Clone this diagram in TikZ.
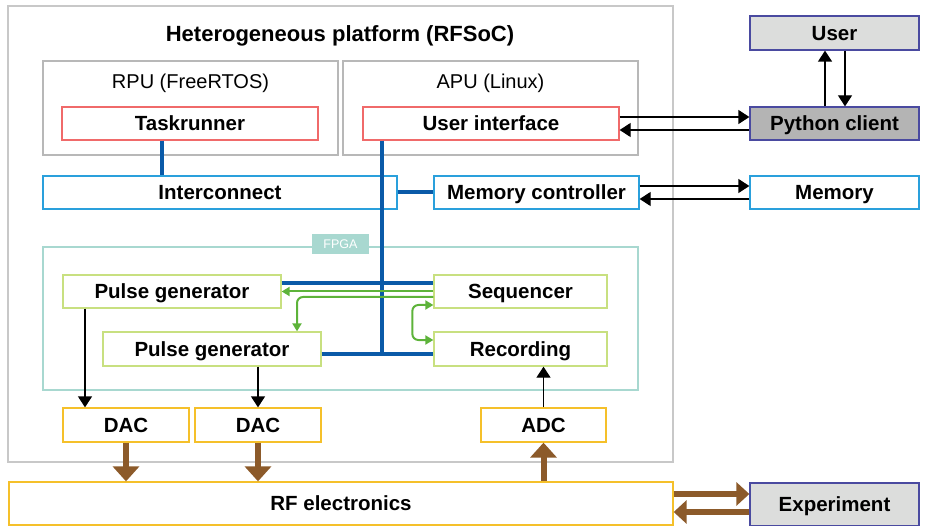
\documentclass[tikz,border=0pt]{standalone}
\usepackage{fontspec}
\setmainfont{Liberation Sans}
\usetikzlibrary{arrows.meta,calc}
\definecolor{framegray}{HTML}{C8C8C8}
\definecolor{cpugray}{HTML}{B8B8B8}
\definecolor{cpured}{HTML}{F06A6A}
\definecolor{sysblue}{HTML}{2AA0DC}
\definecolor{busblue}{HTML}{0A5AA8}
\definecolor{fpgateal}{HTML}{A8D8D0}
\definecolor{fpgagreen}{HTML}{C8E080}
\definecolor{siggreen}{HTML}{5DB33A}
\definecolor{convyellow}{HTML}{F5C02A}
\definecolor{rfbrown}{HTML}{8C5A2A}
\definecolor{hostpurple}{HTML}{4A4AA0}
\definecolor{hostlight}{HTML}{DCDDDC}
\definecolor{hostdark}{HTML}{B4B4B4}
\tikzset{
  % text box as tall as the capitals, so the capitals sit centred in a node
  capcenter/.style={text height=#1, text depth=0pt},
  lbl/.style={font=\fontsize{20.5}{24}\selectfont\bfseries, capcenter=14.7pt},
  plain/.style={font=\fontsize{20}{24}\selectfont, capcenter=14.3pt},
  blk/.style={draw, line width=1.3pt, fill=white, inner sep=0pt, lbl},
  cpubox/.style={blk, draw=cpured},
  sysbox/.style={blk, draw=sysblue},
  fpgabox/.style={blk, draw=fpgagreen},
  convbox/.style={blk, draw=convyellow},
  hostbox/.style={blk, draw=hostpurple},
  bus/.style={draw=busblue, line width=4pt},
  arr/.style={line width=1.3pt, -{Triangle[length=11pt,width=14pt]}},
  garr/.style={draw=siggreen, line width=2pt, -{Triangle[length=8pt,width=9pt]}},
  brarr/.style={draw=rfbrown, line width=6pt, -{Triangle[length=15pt,width=26pt]}},
}
\begin{document}
\begin{tikzpicture}[x=1pt,y=-1pt]
\useasboundingbox (0,0) rectangle (928,526);

% platform frame and title
\node[draw=framegray, line width=1.3pt, minimum width=665pt, minimum height=456pt, inner sep=0pt] (plat) at (340.5,234) {};
\node[font=\fontsize{22}{26}\selectfont\bfseries, capcenter=15.8pt] (title) at (340,34) {Heterogeneous platform (RFSoC)};

% processors
\node[draw=cpugray, line width=1.3pt, minimum width=295pt, minimum height=94pt, inner sep=0pt] (rpu) at (190.5,108) {};
\node[draw=cpugray, line width=1.3pt, minimum width=295pt, minimum height=94pt, inner sep=0pt] (apu) at (490.5,108) {};
\node[plain] (rpul) at (190.5,81) {RPU (FreeRTOS)};
\node[plain] (apul) at (490.5,81) {APU (Linux)};
\node[cpubox, minimum width=256pt, minimum height=33pt] (task) at (190,123.5) {Taskrunner};
\node[cpubox, minimum width=256pt, minimum height=33pt] (ui) at (491,123.5) {User interface};

% system blocks
\node[sysbox, minimum width=354pt, minimum height=33pt] (inter) at (220,192.5) {Interconnect};
\node[sysbox, minimum width=205pt, minimum height=33pt] (memc) at (536.5,192.5) {Memory controller};

% host side
\node[hostbox, fill=hostlight, minimum width=169pt, minimum height=34pt] (user) at (834.5,33) {User};
\node[hostbox, fill=hostdark, minimum width=169pt, minimum height=33pt] (py) at (834.5,123.5) {Python client};
\node[sysbox, minimum width=169pt, minimum height=33pt] (mem) at (834.5,192.5) {Memory};

% FPGA region
\node[draw=fpgateal, line width=1.3pt, minimum width=595pt, minimum height=143pt, inner sep=0pt] (fpga) at (340.5,318.5) {};
\node[fill=fpgateal, text=white, minimum width=57pt, minimum height=20pt, inner sep=0pt, font=\fontsize{12.5}{14}\selectfont, capcenter=9pt] (fpgatag) at (340.5,244) {FPGA};
\node[fpgabox, minimum width=218pt, minimum height=33pt] (pg1) at (172,291.5) {Pulse generator};
\node[fpgabox, minimum width=218pt, minimum height=34pt] (pg2) at (212,349) {Pulse generator};
\node[fpgabox, minimum width=173pt, minimum height=33pt] (seq) at (520.5,291.5) {Sequencer};
\node[fpgabox, minimum width=173pt, minimum height=34pt] (rec) at (520.5,349) {Recording};

% converters and analog front end
\node[convbox, minimum width=126pt, minimum height=34pt] (dac1) at (126,425) {DAC};
\node[convbox, minimum width=126pt, minimum height=34pt] (dac2) at (258,425) {DAC};
\node[convbox, minimum width=125pt, minimum height=34pt] (adc) at (543.5,425) {ADC};
\node[convbox, minimum width=664pt, minimum height=43pt] (rf) at (341,503.5) {RF electronics};
\node[hostbox, fill=hostlight, minimum width=169pt, minimum height=43pt] (exp) at (834.5,504.5) {Experiment};

% blue bus
\coordinate (bj) at (382,354);
\draw[bus] ([xshift=-28pt]task.south) -- ([xshift=-28pt]task.south |- inter.north);
\draw[bus] (ui.south -| bj) -- (bj);
\draw[bus] (inter.east) -- (memc.west);
\draw[bus] ([yshift=8.5pt]pg1.east) -- ([yshift=8.5pt]seq.west);
\draw[bus] (pg2.east |- bj) -- (rec.west |- bj);

% sequencer control lines
\draw[garr] (seq.west) -- (pg1.east);
\draw[garr, rounded corners=6pt] ([yshift=-5.5pt]seq.west) -| ([xshift=85pt]pg2.north);
\draw[garr, {Triangle[length=8pt,width=9pt]}-{Triangle[length=8pt,width=9pt]}, rounded corners=6pt]
  ([yshift=-13.5pt]seq.west) -- ++(-21,0) |- ([yshift=9pt]rec.west);

% data paths to and from the converters
\draw[arr] ([xshift=-87pt]pg1.south) -- ([xshift=-87pt]pg1.south |- dac1.north);
\draw[arr] (dac2.north |- pg2.south) -- (dac2.north);
\draw[arr] (adc.north) -- (adc.north |- rec.south);

% host links
\draw[arr] ([xshift=-9.5pt]py.north) -- ([xshift=-9.5pt]user.south);
\draw[arr] ([xshift=10.5pt]user.south) -- ([xshift=10.5pt]py.north);
\draw[arr] ([yshift=6.5pt]ui.east) -- ([yshift=6.5pt]ui.east -| py.west);
\draw[arr] ([yshift=-6.5pt]py.west) -- ([yshift=-6.5pt]py.west -| ui.east);
\draw[arr] ([yshift=6.5pt]memc.east) -- ([yshift=6.5pt]mem.west);
\draw[arr] ([yshift=-6.5pt]mem.west) -- ([yshift=-6.5pt]memc.east);

% RF signal paths
\draw[brarr] (dac1.south) -- (dac1.south |- rf.north);
\draw[brarr] (dac2.south) -- (dac2.south |- rf.north);
\draw[brarr] (adc.south |- rf.north) -- (adc.south);
\draw[brarr, -{Triangle[length=13pt,width=23pt]}] ([yshift=9.5pt]rf.east) -- ([yshift=9.5pt]rf.east -| exp.west);
\draw[brarr, -{Triangle[length=13pt,width=23pt]}] ([yshift=-8.5pt]rf.east -| exp.west) -- ([yshift=-8.5pt]rf.east);
\end{tikzpicture}
\end{document}
